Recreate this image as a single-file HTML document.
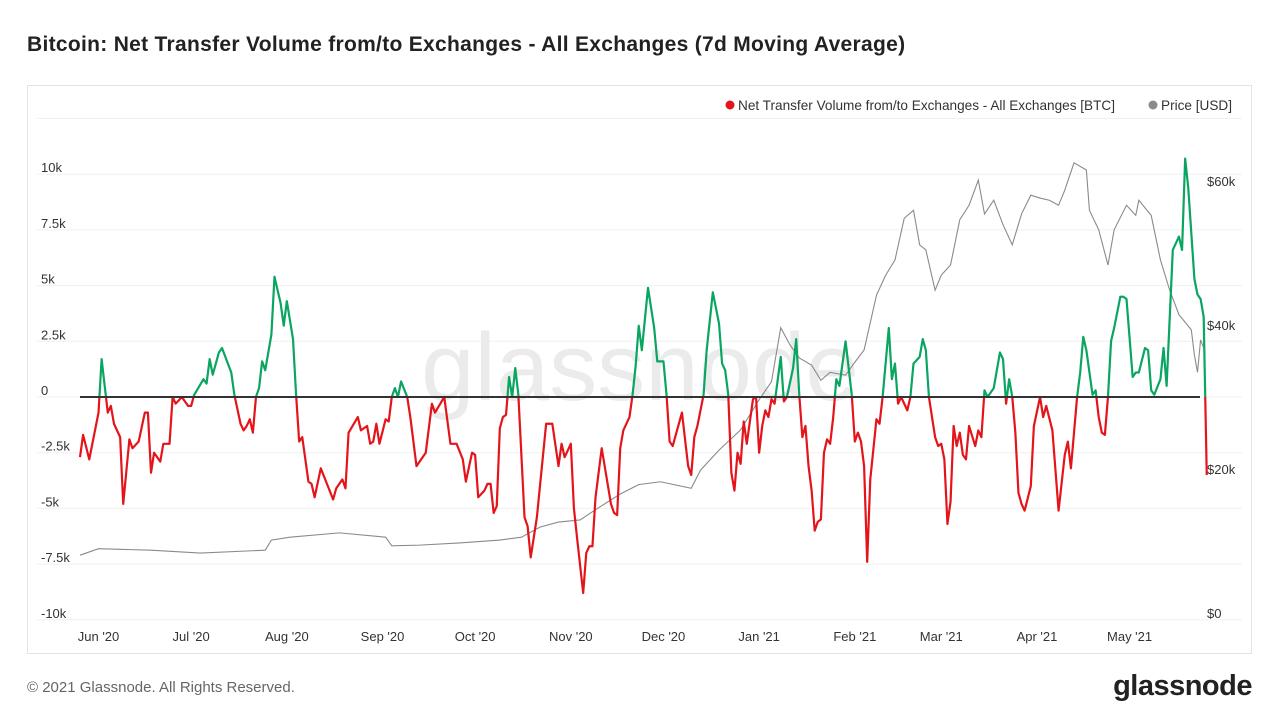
<!DOCTYPE html>
<html><head><meta charset="utf-8"><style>
body{margin:0;width:1280px;height:720px;background:#fff;font-family:"Liberation Sans",sans-serif;overflow:hidden;position:relative}
#title{position:absolute;left:27px;top:33px;font-size:21px;font-weight:bold;color:#222;letter-spacing:0.3px}
#frame{position:absolute;left:27px;top:85px;width:1225px;height:569px;border:1px solid #e3e3e3;box-sizing:border-box}
#foot{position:absolute;left:27px;top:679px;font-size:15px;color:#666}
#logo{position:absolute;right:28px;top:670px;font-size:29px;font-weight:bold;color:#222;letter-spacing:-0.5px}
svg{position:absolute;left:0;top:0}
</style></head><body>
<div id="title">Bitcoin: Net Transfer Volume from/to Exchanges - All Exchanges (7d Moving Average)</div>
<div id="frame"></div>
<svg id="chart" width="1280" height="720"></svg>
<div id="foot">© 2021 Glassnode. All Rights Reserved.</div>
<div id="logo">glassnode</div>
<script>
const flowDays=[0,1,3,6,7,9,10,11,13,14,16,17,19,21,22,23,24,26,27,29,30,31,33,35,36,37,40,41,42,43,45,46,49,50,52,53,54,55,56,57,58,59,60,62,63,65,66,67,69,70,71,72,74,75,76,78,80,82,83,85,86,87,90,91,93,94,95,96,97,99,100,101,102,103,104,106,107,109,112,114,115,118,120,122,124,125,127,128,129,131,132,133,134,135,136,137,138,139,140,141,142,144,145,146,148,151,153,155,156,157,159,160,161,163,164,165,166,167,169,172,173,174,175,176,178,179,180,181,182,184,186,187,189,190,191,192,195,197,198,199,200,202,203,205,207,208,209,210,211,212,213,214,215,216,218,219,220,221,222,223,224,225,227,228,229,231,232,233,234,235,236,237,238,239,240,241,242,243,244,245,246,248,250,251,252,253,254,255,256,258,259,260,262,263,264,265,266,268,269,270,272,273,274,275,276,277,278,279,280,281,282,283,284,285,286,287,288,290,291,292,293,294,296,298,299,300,301,302,303,304,305,306,308,309,311,312,313,315,317,319,320,321,323,324,325,326,328,329,330,331,332,333,334,335,337,338,339,341,342,343,345,346,347,348,350,351,352,354,356,357,358,359,361,362,363,364,365];
const flowVals=[-2.7,-1.7,-2.8,-0.7,1.7,-0.7,-0.4,-1.2,-1.8,-4.8,-1.9,-2.3,-2.0,-0.7,-0.7,-3.4,-2.5,-2.9,-2.1,-2.1,0,-0.3,0,-0.4,-0.4,0.1,0.8,0.6,1.7,1.0,2.0,2.2,1.1,0.1,-1.2,-1.5,-1.3,-1.0,-1.6,0,0.4,1.6,1.2,2.8,5.4,4.2,3.2,4.3,2.6,0.1,-2.0,-1.8,-3.8,-3.9,-4.5,-3.2,-3.9,-4.6,-4.1,-3.7,-4.1,-1.6,-0.9,-1.5,-1.3,-2.1,-2.0,-1.2,-2.1,-1.0,-1.1,0,0.4,0,0.7,0,-0.9,-3.1,-2.5,-0.3,-0.7,0,-2.1,-2.1,-2.8,-3.8,-2.5,-2.6,-4.5,-4.2,-3.9,-3.9,-5.2,-4.9,-1.4,-0.9,-0.8,0.9,0,1.3,0.1,-5.4,-5.8,-7.2,-5.4,-1.2,-1.2,-3.1,-2.1,-2.7,-2.1,-5.0,-6.3,-8.8,-7.0,-6.7,-6.7,-4.5,-2.3,-4.8,-5.2,-5.3,-2.3,-1.5,-0.9,0.1,1.4,3.2,2.1,4.9,3.1,1.6,1.6,0.1,-2.0,-2.2,-0.7,-3.1,-3.5,-1.8,-1.3,0.1,2.1,4.7,3.3,1.5,1.2,0.1,-3.4,-4.2,-2.5,-3.0,-1.1,-2.1,-0.1,0,-2.5,-1.3,-0.6,-0.9,-0.1,-0.3,1.8,-0.2,0,1.3,2.6,0.1,-1.8,-1.3,-3.1,-4.2,-6.0,-5.6,-5.5,-2.5,-1.9,-2.1,-0.9,0.8,0.5,2.5,0.1,-2.0,-1.6,-2.0,-3.1,-7.4,-3.7,-1.0,-1.2,0,3.1,0.8,1.5,-0.3,0,-0.6,0,1.5,1.8,2.6,2.1,0,-0.9,-1.8,-2.2,-2.1,-2.8,-5.7,-4.7,-1.3,-2.2,-1.6,-2.6,-2.8,-1.3,-2.2,-1.5,-1.8,0.3,0,0.4,2.0,1.7,-0.3,0.8,0,-1.6,-4.3,-4.8,-5.1,-4.0,-1.3,0,-0.9,-0.4,-1.5,-5.1,-2.6,-2.0,-3.2,0,1.1,2.7,2.1,0.1,0.3,-0.9,-1.6,-1.7,0,2.5,3.1,4.5,4.5,4.4,0.9,1.1,1.1,2.2,2.1,0.3,0.1,0.8,2.2,0.5,6.6,7.2,6.6,10.7,9.4,5.3,4.6,4.4,3.6,-3.5];
const priceDays=[0,6,23,39,60,62,68,84,99,101,110,123,136,143,149,155,162,168,175,181,188,198,201,207,214,220,224,227,230,233,237,240,243,248,251,254,258,261,264,267,270,272,274,277,279,282,285,288,291,293,296,299,302,305,308,311,314,317,319,322,326,327,330,333,335,339,342,343,347,350,353,356,360,361,362,363,364];
const priceVals=[9.0,9.9,9.7,9.3,9.7,11.1,11.5,12.1,11.5,10.3,10.4,10.7,11.1,11.5,12.9,13.6,13.9,15.6,17.5,18.8,19.2,18.3,20.8,23.6,26.4,30.6,33.1,40.6,38.2,36.4,35.4,33.3,34.4,34.0,35.8,37.5,45.1,47.9,50.0,55.8,56.9,52.1,51.4,45.8,47.9,49.3,55.6,57.6,61.1,56.4,58.3,54.9,52.1,56.4,59.0,58.6,58.3,57.6,59.7,63.5,62.5,56.9,54.2,49.3,54.2,57.6,56.2,58.3,56.2,50.0,45.8,42.4,40.3,36.8,34.4,38.9,37.8];
const leftTicks=[10,7.5,5,2.5,0,-2.5,-5,-7.5,-10];
const leftLabels=["10k","7.5k","5k","2.5k","0","-2.5k","-5k","-7.5k","-10k"];
const rightTicks=[60,40,20,0];
const rightLabels=["$60k","$40k","$20k","$0"];
const monthDays=[6,36,67,98,128,159,189,220,251,279,310,340];
const monthLabels=["Jun '20","Jul '20","Aug '20","Sep '20","Oct '20","Nov '20","Dec '20","Jan '21","Feb '21","Mar '21","Apr '21","May '21"];

const X=d=>80+d*3.087;
const YL=v=>397-v*22.28;
const YR=p=>620-p*7.2;
const svg=document.getElementById('chart');
const NS='http://www.w3.org/2000/svg';
function mk(t,a,p){const e=document.createElementNS(NS,t);for(const k in a)e.setAttribute(k,a[k]);(p||svg).appendChild(e);return e;}

const gg=mk('g',{});


[12.5].concat(leftTicks).forEach(v=>{mk('line',{x1:37,x2:1242,y1:YL(v),y2:YL(v),stroke:'#f0f0f0','stroke-width':1},gg);});
const wm=mk('text',{x:640,y:400,'text-anchor':'middle','font-size':96,fill:'#ebebeb','font-family':'Liberation Sans, sans-serif'});
wm.textContent='glassnode';


const la=mk('g',{'font-size':13,fill:'#333'});


leftTicks.forEach((v,i)=>{const t=mk('text',{x:41,y:YL(v)-2},la);t.textContent=leftLabels[i];});
const ra=mk('g',{'font-size':13,fill:'#333'});


rightTicks.forEach((v,i)=>{const t=mk('text',{x:1207,y:YR(v)-2},ra);t.textContent=rightLabels[i];});
const xa=mk('g',{'font-size':13,fill:'#333','text-anchor':'middle'});


monthDays.forEach((d,i)=>{const t=mk('text',{x:X(d),y:641},xa);t.textContent=monthLabels[i];});
const pp=mk('polyline',{points:priceDays.map((d,i)=>X(d)+','+YR(priceVals[i])).join(' '),fill:'none',stroke:'#8a8a8a','stroke-width':1.1});


const defs=mk('defs',{});
const c1=mk('clipPath',{id:'above'},defs);mk('rect',{x:0,y:0,width:1280,height:YL(0)},c1);
const c2=mk('clipPath',{id:'below'},defs);mk('rect',{x:0,y:YL(0),width:1280,height:720},c2);
const pts=flowDays.map((d,i)=>X(d)+','+YL(flowVals[i])).join(' ');
const fg=mk('polyline',{points:pts,fill:'none',stroke:'#0ba562','stroke-width':2.2,'clip-path':'url(#above)','stroke-linejoin':'round'});


const fr=mk('polyline',{points:pts,fill:'none',stroke:'#e4141b','stroke-width':2.2,'clip-path':'url(#below)','stroke-linejoin':'round'});


const zl=mk('line',{x1:80,x2:1200,y1:YL(0),y2:YL(0),stroke:'#333','stroke-width':2});


const lg=mk('g',{'font-size':13.6,fill:'#333'});


const l1=mk('g',{},lg);


mk('circle',{cx:730,cy:105,r:4.5,fill:'#e4141b'},l1);
const t1=mk('text',{x:738,y:110},l1);t1.textContent='Net Transfer Volume from/to Exchanges - All Exchanges [BTC]';
const l2=mk('g',{},lg);


mk('circle',{cx:1153,cy:105,r:4.5,fill:'#8a8a8a'},l2);
const t2=mk('text',{x:1161,y:110},l2);t2.textContent='Price [USD]';
</script>
</body></html>
